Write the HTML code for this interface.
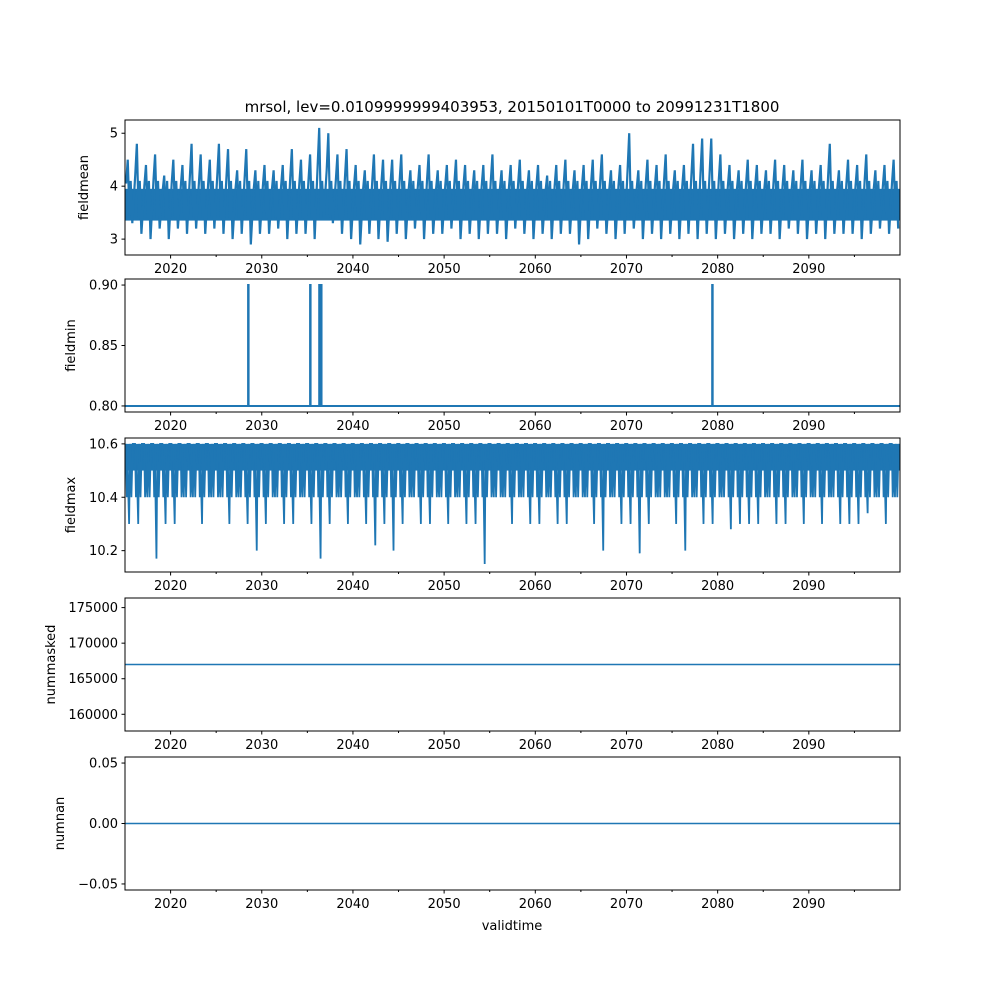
<!DOCTYPE html>
<html><head><meta charset="utf-8"><style>
html,body{margin:0;padding:0;background:#fff;}
svg{display:block;font-family:"DejaVu Sans","Liberation Sans",sans-serif;}
</style></head><body>
<svg id="fig" width="1000" height="1000" viewBox="0 0 1000 1000">
<text x="512" y="112" font-size="15" text-anchor="middle">mrsol, lev=0.0109999999403953, 20150101T0000 to 20991231T1800</text>
<text x="512" y="930" font-size="13" text-anchor="middle">validtime</text>
</svg>
<script>
// data
const years=[];for(let y=2015;y<2100;y++)years.push(y);
const meanHigh=[4.5,4.8,4.4,4.6,4.2,4.5,4.4,4.8,4.6,4.5,4.8,4.7,4.3,4.7,4.3,4.4,4.3,4.4,4.7,4.5,4.6,5.1,5.0,4.6,4.7,4.4,4.3,4.6,4.5,4.5,4.6,4.3,4.4,4.6,4.3,4.4,4.5,4.4,4.3,4.4,4.6,4.3,4.4,4.5,4.3,4.4,4.2,4.4,4.5,4.3,4.4,4.5,4.6,4.3,4.4,5.0,4.3,4.5,4.4,4.6,4.3,4.4,4.8,4.9,4.9,4.6,4.4,4.3,4.5,4.4,4.3,4.5,4.4,4.3,4.5,4.3,4.4,4.8,4.3,4.5,4.4,4.6,4.3,4.4,4.5];
const meanLow=[3.3,3.1,3.0,3.2,3.0,3.2,3.1,3.2,3.1,3.2,3.1,3.0,3.1,2.9,3.1,3.1,3.2,3.0,3.1,3.1,3.0,3.4,3.3,3.1,3.0,2.9,3.1,3.0,2.95,3.1,3.0,3.2,3.0,3.1,3.1,3.2,3.0,3.1,3.0,3.1,3.1,3.0,3.2,3.1,3.0,3.1,3.0,3.1,3.1,2.9,3.0,3.2,3.1,3.0,3.1,3.2,3.0,3.1,3.0,3.1,3.0,3.1,3.0,3.1,3.0,3.1,3.0,3.1,3.0,3.1,3.1,3.0,3.2,3.1,3.0,3.1,3.0,3.1,3.1,3.1,3.0,3.1,3.2,3.1,3.2];
const minSpikes=[2028.5,2035.3,2036.3,2036.5,2079.4];
const minBase=0.8,minPeak=0.9;
const maxDips=[10.3,10.3,10.4,10.17,10.3,10.3,10.4,10.4,10.3,10.4,10.4,10.3,10.4,10.3,10.2,10.3,10.4,10.3,10.3,10.4,10.3,10.17,10.3,10.4,10.3,10.4,10.3,10.22,10.3,10.2,10.3,10.4,10.3,10.3,10.4,10.3,10.4,10.3,10.3,10.15,10.4,10.4,10.3,10.4,10.3,10.3,10.4,10.3,10.3,10.4,10.4,10.3,10.2,10.4,10.3,10.3,10.19,10.3,10.4,10.4,10.3,10.2,10.4,10.3,10.3,10.4,10.28,10.3,10.3,10.3,10.4,10.3,10.3,10.4,10.3,10.4,10.3,10.4,10.3,10.3,10.3,10.34,10.4,10.3,10.4];
const maxTop=10.6,maxBand=10.5;
const nummasked=167000, numnan=0;
const xTicks=[2020,2030,2040,2050,2060,2070,2080,2090];
const xMinor=[2025,2035,2045,2055,2065,2075,2085,2095];

const svg=document.getElementById('fig');const NS='http://www.w3.org/2000/svg';
const L=125,R=900,X0=2015,X1=2100;
const xs=v=>L+(v-X0)/(X1-X0)*(R-L);
const C='#1f77b4';
function el(t,a,p){const e=document.createElementNS(NS,t);for(const k in a)e.setAttribute(k,a[k]);(p||svg).appendChild(e);return e;}
const panels=[
 {name:'fieldmean',top:120,bot:255,y0:2.7,y1:5.25,ticks:[3,4,5],fmt:v=>String(v),lx:88},
 {name:'fieldmin',top:279,bot:412,y0:0.795,y1:0.905,ticks:[0.80,0.85,0.90],fmt:v=>v.toFixed(2),lx:75},
 {name:'fieldmax',top:438,bot:572,y0:10.12,y1:10.622,ticks:[10.2,10.4,10.6],fmt:v=>v.toFixed(1),lx:75},
 {name:'nummasked',top:598,bot:731,y0:157650,y1:176350,ticks:[160000,165000,170000,175000],fmt:v=>String(v),lx:55},
 {name:'numnan',top:757,bot:890,y0:-0.055,y1:0.055,ticks:[-0.05,0,0.05],fmt:v=>(v<0?'\u22120.05':v.toFixed(2)),lx:64}
];
panels.forEach((p,i)=>{
 const g=el('g',{});
 
 
 const ys=v=>p.bot-(v-p.y0)/(p.y1-p.y0)*(p.bot-p.top);
 const cp=el('clipPath',{id:'c'+i},g);el('rect',{x:L,y:p.top,width:R-L,height:p.bot-p.top},cp);
 const d=el('g',{'clip-path':'url(#c'+i+')'},g);
 if(i===0){
  let pts=[];years.forEach((y,k)=>{pts.push([xs(y+0.12),ys((meanHigh[k]+3.6)/2)]);pts.push([xs(y+0.3),ys(meanHigh[k])]);pts.push([xs(y+0.5),ys(3.4)]);pts.push([xs(y+0.62),ys(4.1)]);pts.push([xs(y+0.8),ys(meanLow[k])]);});
  el('rect',{x:L,y:ys(3.95),width:R-L,height:ys(3.35)-ys(3.95),fill:C},d);
  const pl=el('polyline',{points:pts.map(q=>q.join(',')).join(' '),fill:'none',stroke:C,'stroke-width':2.2},d);
  
  
 } else if(i===1){
  let pts=[[xs(X0),ys(minBase)]];minSpikes.forEach(s=>{pts.push([xs(s),ys(minBase)],[xs(s),ys(minPeak)],[xs(s)+0.5,ys(minPeak)],[xs(s)+0.5,ys(minBase)]);});pts.push([xs(X1),ys(minBase)]);
  const pl=el('polyline',{points:pts.map(q=>q.join(',')).join(' '),fill:'none',stroke:C,'stroke-width':2},d);
  
  
 } else if(i===2){
  el('rect',{x:L,y:ys(maxTop),width:R-L,height:ys(maxBand)-ys(maxTop),fill:C},d);
  let pts=[];years.forEach((y,k)=>{pts.push([xs(y+0.1),ys(maxTop)],[xs(y+0.2),ys(10.4)],[xs(y+0.3),ys(maxBand)],[xs(y+0.45),ys(maxDips[k])],[xs(y+0.55),ys(maxTop)],[xs(y+0.7),ys(10.4)],[xs(y+0.85),ys(maxTop)]);});
  const pl=el('polyline',{points:pts.map(q=>q.join(',')).join(' '),fill:'none',stroke:C,'stroke-width':1.8},d);
  
  
 } else {
  const v=i===3?nummasked:numnan;
  const ln=el('line',{x1:L,x2:R,y1:ys(v),y2:ys(v),stroke:C,'stroke-width':1.5},d);
  
  
 }
 el('rect',{x:L,y:p.top,width:R-L,height:p.bot-p.top,fill:'none',stroke:'#000','stroke-width':1},g);
 p.ticks.forEach(t=>{const y=ys(t);el('line',{x1:L-3.5,x2:L,y1:y,y2:y,stroke:'#000'},g);
  const tx=el('text',{x:L-7,y:y+4.5,'font-size':13,'text-anchor':'end'},g);tx.textContent=p.fmt(t);
  
  });
 xTicks.forEach(t=>{const x=xs(t);el('line',{x1:x,x2:x,y1:p.bot,y2:p.bot+3.5,stroke:'#000'},g);
  const tx=el('text',{x:x,y:p.bot+18,'font-size':13,'text-anchor':'middle'},g);tx.textContent=t;
  
  });
 xMinor.forEach(t=>{const x=xs(t);el('line',{x1:x,x2:x,y1:p.bot,y2:p.bot+2,stroke:'#000'},g);});
 const yc=(p.top+p.bot)/2;
 const yl=el('text',{x:p.lx,y:yc,'font-size':13,'text-anchor':'middle',transform:'rotate(-90 '+p.lx+' '+yc+')'},g);yl.textContent=p.name;
 
 
});
</script>
</body></html>
